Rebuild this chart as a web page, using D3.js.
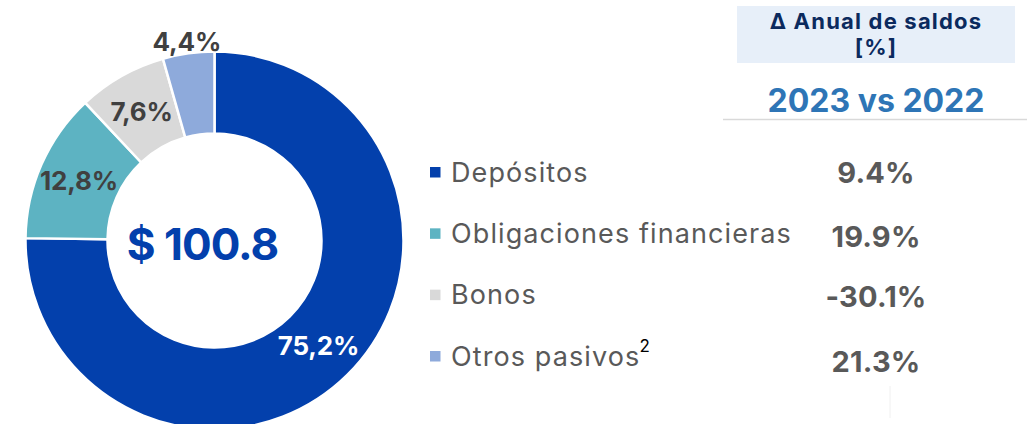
<!DOCTYPE html>
<html><head><meta charset="utf-8">
<script src="https://cdn.jsdelivr.net/npm/d3@7"></script>
<style>
html,body{margin:0;padding:0;background:#fff;}
svg{display:block;font-family:Inter,"Open Sans",sans-serif;}
</style></head>
<body>
<svg id="c" width="1030" height="424"></svg>
<script>
const categories = ["Depósitos", "Obligaciones financieras", "Bonos", "Otros pasivos"];
const shares = [75.2, 12.8, 7.6, 4.4];
const shareLabels = ["75,2%", "12,8%", "7,6%", "4,4%"];
const changes = ["9.4%", "19.9%", "-30.1%", "21.3%"];
const totalLabel = "$ 100.8";
const headerLines = ["Δ Anual de saldos", "[%]"];
const periodLabel = "2023 vs 2022";
const colors = ["#0340AC", "#5DB3C2", "#D9D9D9", "#8EAADB"];

const svg = d3.select("#c");
const cx = 214.5, cy = 240.5, R = 189, r = 107;

const pie = d3.pie().sort(null).value(d => d).startAngle(0).endAngle(2 * Math.PI);
const arcs = pie(shares);
const arc = d3.arc().innerRadius(r).outerRadius(R);
const g = svg.append("g").attr("transform", `translate(${cx},${cy})`);

g.selectAll("path").data(arcs).join("path")
  .attr("d", arc)
  .attr("fill", (d, i) => colors[i])
  .attr("stroke", "#fff").attr("stroke-width", 2.5);

const outerArc = d3.arc().innerRadius(R + 12).outerRadius(R + 12);
g.selectAll("text.pl").data(arcs).join("text")
  .attr("class", "pl")
  .attr("transform", d => {
    const c = (d.data < 5 ? outerArc : arc).centroid(d);
    return `translate(${c[0]},${c[1]})`;
  })
  .attr("text-anchor", "middle").attr("dominant-baseline", "central")
  .attr("font-size", 26).attr("font-weight", 700)
  .attr("letter-spacing", -0.2)
  .attr("fill", (d, i) => i === 0 ? "#fff" : "#404040")
  .text((d, i) => shareLabels[i]);

g.append("text").attr("x", -12).attr("y", 3)
  .attr("text-anchor", "middle").attr("dominant-baseline", "central")
  .attr("font-size", 44).attr("font-weight", 700).attr("fill", "#0340AC")
  .attr("letter-spacing", -1)
  .text(totalLabel);

// Legend
const y = d3.scalePoint().domain(categories).range([172, 356]);
const valueOffset = [0, 3, 2, 5];
const leg = svg.append("g");
categories.forEach((c, i) => {
  leg.append("rect").attr("x", 430).attr("y", y(c) - 5).attr("width", 10.5).attr("height", 10.5)
    .attr("fill", colors[i]);
  const t = leg.append("text").attr("x", 451).attr("y", y(c)).attr("dominant-baseline", "central")
    .attr("font-size", 27).attr("fill", "#595959").attr("letter-spacing", 1.1).text(c);
  if (i === 3) {
    t.append("tspan").attr("font-size", 17).attr("dy", -10).attr("dx", -1).attr("fill", "#000").text("2");
  }
  svg.append("text").attr("x", 876).attr("y", y(c) + valueOffset[i])
    .attr("text-anchor", "middle").attr("dominant-baseline", "central")
    .attr("font-size", 29).attr("font-weight", 700).attr("fill", "#595959")
    .attr("letter-spacing", 0.2)
    .text(changes[i]);
});

// Header
svg.append("rect").attr("x", 737).attr("y", 6).attr("width", 278).attr("height", 57).attr("fill", "#E7EFF9");
headerLines.forEach((l, i) => {
  svg.append("text").attr("x", 876).attr("y", 21 + i * 26).attr("text-anchor", "middle")
    .attr("dominant-baseline", "central").attr("font-size", 22).attr("font-weight", 700)
    .attr("letter-spacing", 1.2)
    .attr("fill", "#0B2A5E").text(l);
});
svg.append("text").attr("x", 876).attr("y", 100).attr("text-anchor", "middle")
  .attr("dominant-baseline", "central").attr("font-size", 32).attr("font-weight", 700)
  .attr("fill", "#2E75B6").text(periodLabel);
svg.append("line").attr("x1", 723).attr("x2", 1027).attr("y1", 119.5).attr("y2", 119.5)
  .attr("stroke", "#D9D9D9").attr("stroke-width", 1.5);
svg.append("line").attr("x1", 890).attr("x2", 890).attr("y1", 386).attr("y2", 418)
  .attr("stroke", "#F0F0F0").attr("stroke-width", 1);
</script>
</body></html>
